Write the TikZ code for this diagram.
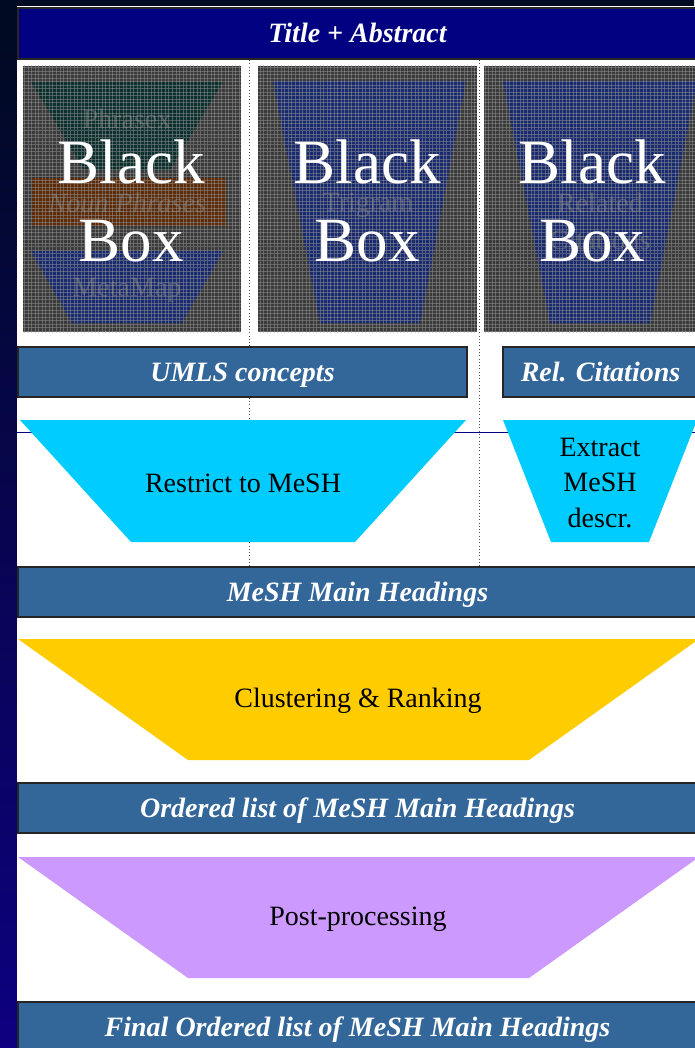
\documentclass[tikz,border=0pt]{standalone}
\usepackage{fontspec}
\setmainfont{Liberation Serif}
\usetikzlibrary{patterns}

\definecolor{navybar}{HTML}{000080}
\definecolor{steel}{HTML}{336699}
\definecolor{cyanbox}{HTML}{00CCFF}
\definecolor{goldbox}{HTML}{FFCC00}
\definecolor{lilac}{HTML}{CC99FF}
\definecolor{stripTop}{HTML}{000A20}
\definecolor{stripBot}{HTML}{0E0080}
\definecolor{boxgray}{HTML}{3A3A3A}
\definecolor{boxnavy}{HTML}{1A2A6E}
\definecolor{boxgreen}{HTML}{0C302E}
\definecolor{boxbrown}{HTML}{5C2C0A}
\definecolor{gridgray}{HTML}{9A9A9A}
\definecolor{faint}{HTML}{808080}

\newcommand{\lbl}{\fontsize{23.9}{30.5}\selectfont}
\newcommand{\bigbb}{\fontsize{53.8}{66.6}\selectfont}

\tikzset{
  bar/.style={draw=black!85, line width=1pt, fill=steel, text=white,
    font=\lbl\bfseries\itshape, inner sep=0pt,
    text height=15.8pt, text depth=0pt},
  step txt/.style={font=\lbl, text=black, align=center},
  bb txt/.style={font=\bigbb, text=white, anchor=base},
  ghost/.style={font=\lbl, text=faint, opacity=.5},
  divider/.style={black!70, line width=.8pt, dotted},
}

\begin{document}
\begin{tikzpicture}[x=0.03cm, y=-0.03cm]
    \useasboundingbox (0,0) rectangle (694,1048);
    \shade[top color=stripTop, bottom color=stripBot] (0,0) rectangle (694,1048);
    \fill[white] (17,6) rectangle (700,1052);

    % guide lines behind the boxes
    \coordinate (H0) at (17,432);
    \coordinate (H1) at (700,432);
    \draw[navybar, line width=.8pt] (H0) -- (H1);
    \coordinate (D1a) at (249,60);
    \coordinate (D1b) at (249,567);
    \coordinate (D2a) at (479,60);
    \coordinate (D2b) at (479,567);
    \draw[divider] (D1a) -- (D1b);
    \draw[divider] (D2a) -- (D2b);

    \node[bar, fill=navybar, minimum width=20.37cm, minimum height=1.53cm]
        (N0) at (357.5,33.5) {Title + Abstract};

    % black boxes
    \fill[boxgray] (23,66) rectangle (241,332);
    \fill[boxgray] (258,66) rectangle (477,332);
    \fill[boxgray] (484,66) rectangle (700,332);
    \fill[boxgreen] (31,82) -- (223,82) -- (170,170) -- (84,170) -- cycle;
    \filldraw[fill=boxbrown, draw=black!80] (31,177) rectangle (226,226);
    \fill[boxnavy] (31,251) -- (223,251) -- (182,323) -- (72,323) -- cycle;
    \fill[boxnavy] (273,81) -- (466,81) -- (420,323) -- (320,323) -- cycle;
    \fill[boxnavy] (503,81) -- (697,81) -- (650,323) -- (550,323) -- cycle;
    \node[ghost] (G1) at (127,119) {Phrasex};
    \node[ghost, font=\lbl\itshape] (G2) at (127,203) {Noun Phrases};
    \node[ghost] (G3) at (127,290) {MetaMap};
    \node[ghost] (G4) at (368,205) {Trigram};
    \node[ghost] (G5) at (600,203) {Related};
    \node[ghost] (G6) at (600,240) {Citations};
    \fill[pattern=grid, pattern color=gridgray, opacity=.45] (23,66) rectangle (241,332);
    \fill[pattern=grid, pattern color=gridgray, opacity=.45] (258,66) rectangle (477,332);
    \fill[pattern=grid, pattern color=gridgray, opacity=.45] (484,66) rectangle (700,332);
    \node[bb txt] (B1) at (131,184) {Black};
    \node[bb txt] (B2) at (131,262) {Box};
    \node[bb txt] (B3) at (367,184) {Black};
    \node[bb txt] (B4) at (367,262) {Box};
    \node[bb txt] (B5) at (592,184) {Black};
    \node[bb txt] (B6) at (592,262) {Box};

    \node[bar, minimum width=13.47cm, minimum height=1.5cm]
        (N1) at (242.5,372) {UMLS concepts};
    \node[bar, minimum width=5.85cm, minimum height=1.5cm]
        (N2) at (600.5,372) {Rel. Citations};

    \fill[cyanbox] (20,420) -- (466,420) -- (355,542) -- (131,542) -- cycle;
    \fill[cyanbox] (503,420) -- (697,420) -- (649,542) -- (551,542) -- cycle;
    \node[step txt] (N3) at (243,483) {Restrict to MeSH};
    \node[step txt] (N4) at (600,483) {Extract\\MeSH\\descr.};

    \node[bar, minimum width=20.37cm, minimum height=1.5cm]
        (N5) at (357.5,592) {MeSH Main Headings};

    \fill[goldbox] (18,639) -- (699,639) -- (529,760) -- (188,760) -- cycle;
    \node[step txt] (N6) at (358,701) {Clustering \& Ranking};

    \node[bar, minimum width=20.37cm, minimum height=1.5cm]
        (N7) at (357.5,808) {Ordered list of MeSH Main Headings};

    \fill[lilac] (18,857) -- (699,857) -- (529,978) -- (188,978) -- cycle;
    \node[step txt] (N8) at (358,919) {Post-processing};

    \node[bar, minimum width=20.37cm, minimum height=1.5cm]
        (N9) at (357.5,1027) {Final Ordered list of MeSH Main Headings};
\end{tikzpicture}
\end{document}
